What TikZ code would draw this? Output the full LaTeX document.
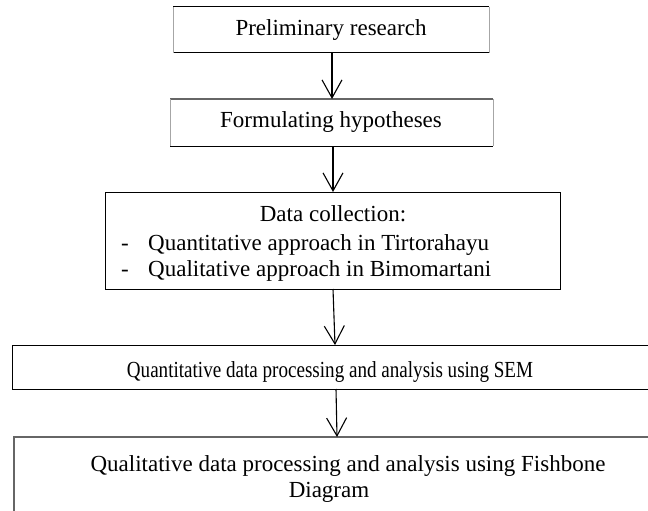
\documentclass[tikz,border=0pt]{standalone}
\usepackage{fontspec}
\usepackage{graphicx}
\setmainfont{Liberation Serif}
\usetikzlibrary{arrows.meta}
\tikzset{
  edge/.style={draw=black, line width=1pt},
  greyedge/.style={draw=black!60, line width=1.2pt},
  sideedge/.style={draw=black!35, line width=0.8pt},
  txt/.style={inner sep=0pt, font=\fontsize{23}{27}\selectfont},
  flow/.style={line width=1.1pt, -{Straight Barb[length=18pt,width=20pt,line width=1.1pt]}},
}
\begin{document}
\begin{tikzpicture}[x=1pt,y=-1pt]
\useasboundingbox (0,0) rectangle (648,511);
\fill[white] (0,0) rectangle (648,511);
% Box 1
\draw[edge] (173,7) -- (489,7); \draw[edge] (173,53) -- (489,53);
\draw[sideedge] (173,7) -- (173,53); \draw[sideedge] (489,7) -- (489,53);
\node[txt] (t1) at (331,30) {Preliminary research};
\coordinate (b1s) at (332,53);
% Box 2
\draw[greyedge] (170,99) -- (493,99); \draw[edge] (170,146) -- (493,146);
\draw[sideedge] (170,99) -- (170,146); \draw[sideedge] (493,99) -- (493,146);
\node[txt] (t2) at (331,122) {Formulating hypotheses};
\coordinate (b2n) at (332,99); \coordinate (b2s) at (333,146);
% Box 3
\draw[edge] (105,192) rectangle (560,289);
\node[txt] (t3a) at (333,214) {Data collection:};
\node[txt, anchor=base west] (t3d1) at (121,250) {-};
\node[txt, anchor=base west] (t3b) at (148,250) {Quantitative approach in Tirtorahayu};
\node[txt, anchor=base west] (t3d2) at (121,276) {-};
\node[txt, anchor=base west] (t3c) at (148,276) {Qualitative approach in Bimomartani};
\coordinate (b3n) at (333,192); \coordinate (b3s) at (333,289);
% Box 4
\draw[edge] (660,345) -- (12,345) -- (12,389) -- (660,389);
\begin{scope}
\clip (12,345) rectangle (660,381);
\node[txt, anchor=base] (t4) at (330,377) {\scalebox{0.83}[1]{Quantitative data processing and analysis using SEM}};
\end{scope}
\coordinate (b4n) at (335,345); \coordinate (b4s) at (336,389);
% Box 5
\draw[greyedge] (14,530) -- (14,437) -- (660,437);
\node[txt, anchor=base] (t5a) at (348,471) {Qualitative data processing and analysis using Fishbone};
\node[txt, anchor=base] (t5b) at (329,497) {Diagram};
\coordinate (b5n) at (337,437);
% Arrows
\draw[flow] (b1s) -- (b2n);
\draw[flow] (b2s) -- (b3n);
\draw[flow] (b3s) -- (b4n);
\draw[flow] (b4s) -- (b5n);
\end{tikzpicture}
\end{document}
